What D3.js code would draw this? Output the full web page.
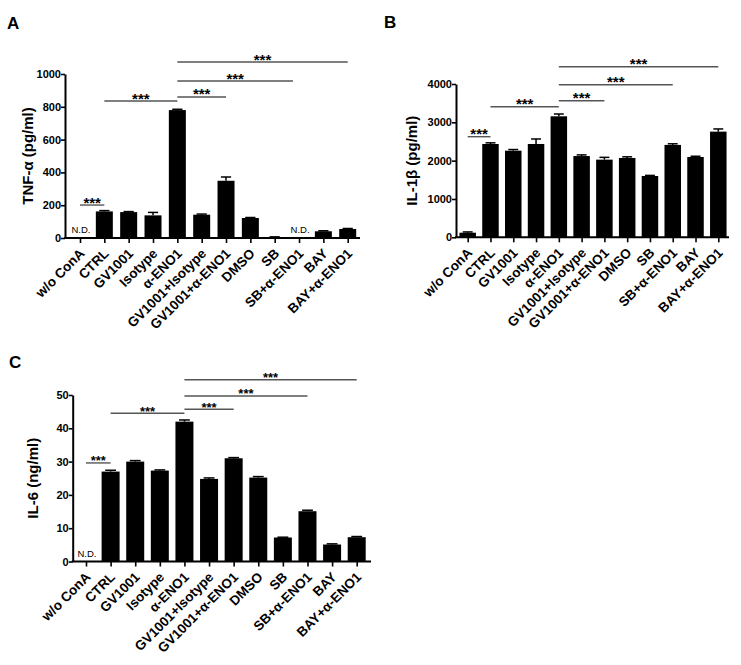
<!DOCTYPE html>
<html>
<head>
<meta charset="utf-8">
<script src="https://cdn.jsdelivr.net/npm/d3@7"></script>
<style>
  html, body { margin: 0; padding: 0; background: #fff; }
  svg { display: block; font-family: "Liberation Sans", Arial, sans-serif; }
</style>
</head>
<body>
<svg id="chart" width="741" height="665"></svg>
<script>
// ---------------- DATA ----------------
const categories = ["w/o ConA", "CTRL", "GV1001", "Isotype", "α-ENO1", "GV1001+Isotype",
  "GV1001+α-ENO1", "DMSO", "SB", "SB+α-ENO1", "BAY", "BAY+α-ENO1"];

const tnfValues = [0, 162, 158, 138, 780, 142, 349, 122, 6, 0, 41, 55];
const tnfErrors = [0, 5, 3, 18, 5, 4, 23, 3, 1, 0, 3, 3];
const tnfTicks = [0, 200, 400, 600, 800, 1000];
const tnfNotDetected = [0, 9];
const tnfSig = [[0, 1, 201], [1, 4, 835], [4, 6, 860], [4, 8.75, 957], [4, 11, 1073]];

const il1bValues = [120, 2435, 2260, 2435, 3157, 2120, 2026, 2070, 1600, 2410, 2095, 2757];
const il1bErrors = [20, 30, 30, 130, 60, 30, 60, 30, 15, 30, 20, 70];
const il1bTicks = [0, 1000, 2000, 3000, 4000];
const il1bNotDetected = [];
const il1bSig = [[0, 1, 2625], [1, 4, 3407], [4, 6, 3564], [4, 9, 3981], [4, 11, 4451]];

const il6Values = [0, 27, 30, 27.3, 42, 24.8, 31, 25.2, 7.2, 15.1, 5.1, 7.3];
const il6Errors = [0, 0.4, 0.3, 0.2, 0.5, 0.3, 0.2, 0.3, 0.1, 0.3, 0.2, 0.2];
const il6Ticks = [0, 10, 20, 30, 40, 50];
const il6NotDetected = [0];
const il6Sig = [[0, 1, 29.6], [1, 4, 44.5], [4, 6, 45.7], [4, 9, 49.7], [4, 11, 54.6]];

// ---------------- LAYOUT ----------------
const panels = [
  { letter: "A", lx: 7, ly: 29, title: "TNF-α (pg/ml)", titleX: 28,
    values: tnfValues, errors: tnfErrors, ticks: tnfTicks, nd: tnfNotDetected, sig: tnfSig,
    axisX: 65, y0: 238, yTop: 74, xFirst: 80, xLast: 347.7, xEnd: 360, barW: 17, starSize: 15 },
  { letter: "B", lx: 384, ly: 28, title: "IL-1β (pg/ml)", titleX: 412,
    values: il1bValues, errors: il1bErrors, ticks: il1bTicks, nd: il1bNotDetected, sig: il1bSig,
    axisX: 456, y0: 237.3, yTop: 84, xFirst: 467.7, xLast: 718.3, xEnd: 729, barW: 16.5, starSize: 15 },
  { letter: "C", lx: 9, ly: 368, title: "IL-6 (ng/ml)", titleX: 33,
    values: il6Values, errors: il6Errors, ticks: il6Ticks, nd: il6NotDetected, sig: il6Sig,
    axisX: 72.7, y0: 561.5, yTop: 395, xFirst: 86, xLast: 356.7, xEnd: 371, barW: 18, starSize: 13 }
];

const svg = d3.select("#chart");

panels.forEach(p => {
  const g = svg.append("g");
  const yMax = p.ticks[p.ticks.length - 1];
  const y = d3.scaleLinear().domain([0, yMax]).range([p.y0, p.yTop]);
  const x = d3.scalePoint().domain(categories).range([p.xFirst, p.xLast]);
  const step = x.step();
  const xi = i => p.xFirst + i * step;

  // panel letter
  g.append("text").attr("x", p.lx).attr("y", p.ly)
    .attr("font-size", 17).attr("font-weight", "bold").text(p.letter);

  // bars
  g.selectAll("rect.bar").data(p.values).join("rect")
    .attr("class", "bar")
    .attr("x", (d, i) => x(categories[i]) - p.barW / 2)
    .attr("width", p.barW)
    .attr("y", d => y(d))
    .attr("height", d => p.y0 - y(d))
    .attr("fill", "#000");

  // error bars (upper)
  const eb = g.append("g").attr("stroke", "#000").attr("stroke-width", 1.5);
  p.values.forEach((v, i) => {
    const e = p.errors[i];
    if (v <= 0 || e <= 0) return;
    const cx = x(categories[i]);
    eb.append("line").attr("x1", cx).attr("x2", cx).attr("y1", y(v)).attr("y2", y(v + e));
    eb.append("line").attr("x1", cx - p.barW * 0.3).attr("x2", cx + p.barW * 0.3)
      .attr("y1", y(v + e)).attr("y2", y(v + e));
  });

  // y axis
  const ya = g.append("g").attr("transform", `translate(${p.axisX},0)`)
    .call(d3.axisLeft(y).tickValues(p.ticks).tickFormat(d3.format("d"))
      .tickSize(4).tickSizeOuter(0).tickPadding(0));
  ya.select(".domain").attr("stroke-width", 2);
  ya.selectAll(".tick line").attr("stroke-width", 1.6);
  ya.selectAll(".tick text").attr("font-size", 11).attr("font-weight", "bold")
    .attr("font-family", "Liberation Sans, Arial, sans-serif").attr("fill", "#000");

  // x axis
  const xa = g.append("g").attr("transform", `translate(0,${p.y0})`)
    .call(d3.axisBottom(x).tickSize(5).tickSizeOuter(0).tickFormat(""));
  xa.select(".domain").remove();
  xa.selectAll(".tick line").attr("stroke-width", 1.6);
  g.append("line").attr("x1", p.axisX - 1).attr("x2", p.xEnd)
    .attr("y1", p.y0).attr("y2", p.y0).attr("stroke", "#000").attr("stroke-width", 2);

  // category labels
  g.selectAll("text.cat").data(categories).join("text")
    .attr("class", "cat")
    .attr("transform", d => `translate(${x(d) + 2},${p.y0 + 13}) rotate(-45)`)
    .attr("text-anchor", "end")
    .attr("dy", "0.35em")
    .attr("font-size", 13.5).attr("font-weight", "bold")
    .text(d => d);

  // y title
  g.append("text")
    .attr("transform", `translate(${p.titleX},${(p.y0 + p.yTop) / 2}) rotate(-90)`)
    .attr("text-anchor", "middle").attr("dy", "0.35em")
    .attr("font-size", 15).attr("font-weight", "bold")
    .text(p.title);

  // N.D. labels
  p.nd.forEach(i => {
    g.append("text").attr("x", x(categories[i]) + 1).attr("y", p.y0 - 5)
      .attr("text-anchor", "middle").attr("font-size", 9.5).text("N.D.");
  });

  // significance lines
  p.sig.forEach(([a, b, v]) => {
    const x1 = xi(a), x2 = xi(b), yy = y(v);
    g.append("line").attr("x1", x1).attr("x2", x2).attr("y1", yy).attr("y2", yy)
      .attr("stroke", "#555").attr("stroke-width", 1.4);
    g.append("text").attr("x", (x1 + x2) / 2).attr("y", yy + 2.5)
      .attr("text-anchor", "middle").attr("font-size", p.starSize).attr("font-weight", "bold")
      .text("***");
  });
});
</script>
</body>
</html>
